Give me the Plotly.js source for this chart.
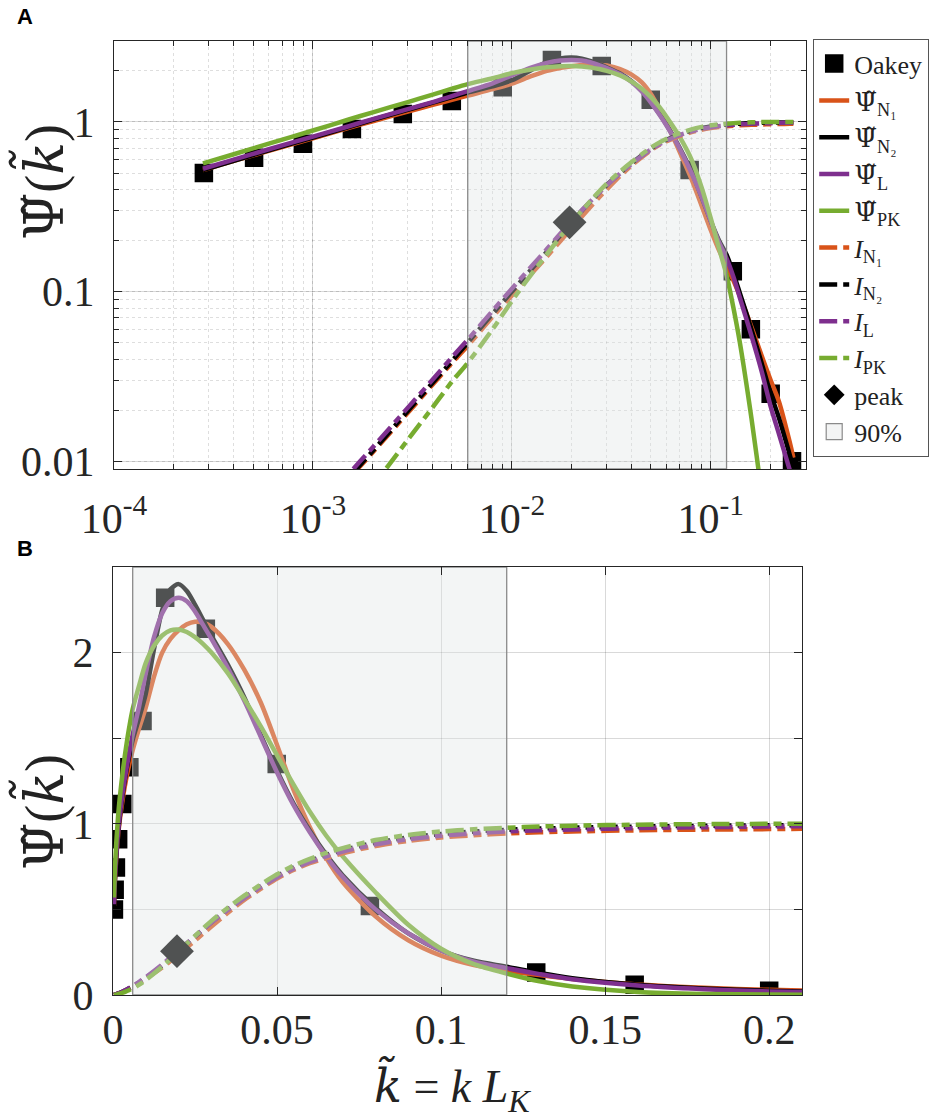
<!DOCTYPE html>
<html><head><meta charset="utf-8">
<script src="https://cdn.plot.ly/plotly-3.0.1.min.js"></script>
<style>html,body{margin:0;padding:0;background:#fff}</style>
</head><body>
<div id="chart" style="width:940px;height:1119px"></div>
<script>
// ---------- data ----------
const kGrid = [0.00028, 0.0004, 0.0006, 0.001, 0.0015, 0.002, 0.003, 0.004, 0.005, 0.006, 0.008, 0.01, 0.0125, 0.015, 0.0175, 0.02, 0.0225, 0.025, 0.0275, 0.03, 0.035, 0.04, 0.045, 0.05, 0.055, 0.06, 0.065, 0.07, 0.08, 0.09, 0.1, 0.11, 0.12, 0.13, 0.14, 0.16, 0.18, 0.2, 0.22, 0.25, 0.26];

const psiN1 = [0.52, 0.59, 0.675, 0.80, 0.92, 1.01, 1.15, 1.26, 1.35, 1.43, 1.56, 1.68, 1.86, 2.00, 2.08, 2.13, 2.165, 2.18, 2.175, 2.15, 2.05, 1.90, 1.71, 1.46, 1.20, 0.98, 0.80, 0.66, 0.46, 0.32, 0.23, 0.175, 0.142, 0.116, 0.094, 0.062, 0.042, 0.030, 0.0225, 0.0128, 0.0105];
const psiN2 = [0.52, 0.59, 0.68, 0.81, 0.93, 1.03, 1.18, 1.30, 1.40, 1.49, 1.62, 1.76, 2.02, 2.25, 2.37, 2.40, 2.36, 2.28, 2.19, 2.10, 1.93, 1.74, 1.52, 1.31, 1.12, 0.96, 0.82, 0.70, 0.51, 0.36, 0.26, 0.20, 0.165, 0.128, 0.098, 0.060, 0.038, 0.025, 0.018, 0.0108, 0.0092];
const psiL  = [0.53, 0.60, 0.69, 0.82, 0.94, 1.04, 1.19, 1.31, 1.42, 1.52, 1.69, 1.88, 2.09, 2.23, 2.30, 2.32, 2.30, 2.24, 2.16, 2.08, 1.91, 1.72, 1.51, 1.30, 1.11, 0.95, 0.81, 0.69, 0.50, 0.36, 0.26, 0.195, 0.157, 0.122, 0.092, 0.055, 0.034, 0.021, 0.0145, 0.0088, 0.0075];
const psiPK = [0.57, 0.645, 0.745, 0.89, 1.03, 1.14, 1.31, 1.45, 1.57, 1.67, 1.81, 1.94, 2.04, 2.10, 2.13, 2.135, 2.12, 2.09, 2.05, 2.00, 1.88, 1.73, 1.57, 1.40, 1.23, 1.07, 0.93, 0.81, 0.60, 0.41, 0.27, 0.18, 0.125, 0.080, 0.050, 0.018, 0.0065, 0.0025, 0.001, 0.0003, 0.0002];

const iN1 = [0.00084, 0.00135, 0.0023, 0.0046, 0.0078, 0.0113, 0.0193, 0.0283, 0.038, 0.048, 0.071, 0.095, 0.127, 0.161, 0.198, 0.237, 0.277, 0.318, 0.36, 0.40, 0.48, 0.555, 0.62, 0.68, 0.73, 0.77, 0.80, 0.828, 0.87, 0.90, 0.92, 0.933, 0.943, 0.95, 0.955, 0.962, 0.966, 0.969, 0.972, 0.975, 0.976];
const iN2 = [0.00084, 0.00135, 0.0023, 0.0046, 0.0079, 0.0115, 0.0198, 0.029, 0.039, 0.050, 0.074, 0.100, 0.135, 0.172, 0.214, 0.257, 0.30, 0.342, 0.384, 0.425, 0.50, 0.57, 0.635, 0.695, 0.745, 0.785, 0.818, 0.846, 0.89, 0.92, 0.94, 0.955, 0.965, 0.972, 0.977, 0.984, 0.988, 0.991, 0.993, 0.995, 0.996];
const iL  = [0.00088, 0.0014, 0.0024, 0.0048, 0.0083, 0.0121, 0.0207, 0.0303, 0.041, 0.052, 0.077, 0.104, 0.140, 0.178, 0.219, 0.260, 0.302, 0.343, 0.383, 0.423, 0.497, 0.566, 0.630, 0.688, 0.737, 0.777, 0.810, 0.838, 0.88, 0.91, 0.93, 0.945, 0.955, 0.962, 0.967, 0.975, 0.98, 0.984, 0.987, 0.99, 0.991];
const iPK = [0.00034, 0.0006, 0.0011, 0.0024, 0.0045, 0.0071, 0.0134, 0.0208, 0.0295, 0.038, 0.060, 0.088, 0.126, 0.166, 0.21, 0.255, 0.30, 0.345, 0.39, 0.433, 0.51, 0.58, 0.645, 0.705, 0.755, 0.795, 0.83, 0.858, 0.905, 0.935, 0.955, 0.968, 0.977, 0.984, 0.989, 0.995, 0.998, 1.0, 1.0, 1.0, 1.0];

const oakeyK   = [0.000283, 0.000506, 0.00089, 0.00157, 0.00283, 0.00499, 0.0090, 0.0159, 0.0283, 0.0499, 0.0783, 0.129, 0.159, 0.200, 0.256];
const oakeyPsi = [0.50, 0.615, 0.745, 0.91, 1.115, 1.33, 1.60, 2.32, 2.14, 1.35, 0.52, 0.132, 0.060, 0.025, 0.010];

const peakK = [0.0195];
const peakI = [0.256];

const band90 = [0.006, 0.12];

const topXLim = [1e-4, 0.301];
const topYLim = [0.009, 3];
const botXLim = [0, 0.21];
const botYLim = [0, 2.5];

const topXTicks = [1e-4, 1e-3, 1e-2, 1e-1];
const topXTickText = ['10<sup>-4</sup>', '10<sup>-3</sup>', '10<sup>-2</sup>', '10<sup>-1</sup>'];
const topYTicks = [0.01, 0.1, 1];
const topYTickText = ['0.01', '0.1', '1'];
const botXTicks = [0, 0.05, 0.1, 0.15, 0.2];
const botXTickText = ['0', '0.05', '0.1', '0.15', '0.2'];
const botYTicks = [0, 0.5, 1, 1.5, 2, 2.5];
const botYTickText = ['0', '', '1', '', '2', ''];

const PSI = '<span style="font-family:DejaVu Serif">Ψ̃</span>';
const KT = '<span style="font-family:DejaVu Serif"><i>k̃</i></span>';
const psiNames = [PSI + '<sub>N₁</sub>', PSI + '<sub>N₂</sub>', PSI + '<sub>L</sub>', PSI + '<sub>PK</sub>'];
const iNames = ['<i>I</i><sub>N₁</sub>', '<i>I</i><sub>N₂</sub>', '<i>I</i><sub>L</sub>', '<i>I</i><sub>PK</sub>'];

// ---------- styling ----------
const colors = ['#D95319', '#000000', '#7E2F8E', '#77AC30'];
const SERIF = 'Liberation Serif, Times New Roman, serif';
const psiSeries = [psiN1, psiN2, psiL, psiPK];
const iSeries = [iN1, iN2, iL, iPK];
const bandFill = 'rgba(222,228,228,0.36)';

function buildTraces(xa, ya, showLeg, yLim) {
  const tr = [];
  tr.push({x: oakeyK, y: oakeyPsi, xaxis: xa, yaxis: ya, mode: 'markers', name: 'Oakey',
    showlegend: showLeg, hoverinfo: 'skip',
    marker: {symbol: 'square', size: 16, color: '#000', line: {color: '#000', width: 2.5}}});
  psiSeries.forEach((s, i) => tr.push({x: kGrid, y: s, xaxis: xa, yaxis: ya, mode: 'lines',
    name: psiNames[i], showlegend: showLeg, hoverinfo: 'skip',
    line: {color: colors[i], width: 4.5, shape: 'spline', smoothing: 0.8}}));
  iSeries.forEach((s, i) => tr.push({x: kGrid, y: s, xaxis: xa, yaxis: ya, mode: 'lines',
    name: iNames[i], showlegend: showLeg, hoverinfo: 'skip',
    line: {color: colors[i], width: 4.5, dash: '18px,6px,8px,6px', shape: 'spline', smoothing: 0.8}}));
  tr.push({x: peakK, y: peakI, xaxis: xa, yaxis: ya, mode: 'markers', name: 'peak',
    showlegend: showLeg, hoverinfo: 'skip',
    marker: {symbol: 'diamond', size: 26, color: '#000'}});
  tr.push({x: [band90[0], band90[0], band90[1], band90[1], band90[0]],
    y: [yLim[0], yLim[1], yLim[1], yLim[0], yLim[0]], xaxis: xa, yaxis: ya,
    mode: 'lines', fill: 'toself', fillcolor: bandFill, name: '90%',
    showlegend: false, hoverinfo: 'skip', line: {color: '#8a8a8a', width: 1.3}});
  if (showLeg) {
    tr.push({x: [null], y: [null], xaxis: xa, yaxis: ya, mode: 'markers', name: '90%',
      showlegend: true, hoverinfo: 'skip',
      marker: {symbol: 'square', size: 22, color: '#f3f4f4', line: {color: '#8a8a8a', width: 1.2}}});
  }
  return tr;
}

const traces = buildTraces('x', 'y', true, topYLim).concat(buildTraces('x2', 'y2', false, botYLim));

const tickFont = {family: SERIF, size: 42, color: '#262626'};
const common = {ticks: 'inside', ticklen: 8, tickcolor: '#262626', tickwidth: 1, showline: true,
  linecolor: '#262626', linewidth: 1.2, mirror: 'allticks', showgrid: true,
  gridcolor: 'rgba(0,0,0,0.15)', gridwidth: 1, zeroline: false, tickfont: tickFont,
  automargin: false, fixedrange: true};
const minorLog = {dtick: 'D1', ticks: 'inside', ticklen: 5, tickcolor: '#262626',
  showgrid: true, gridcolor: 'rgba(0,0,0,0.13)', griddash: 'dot', gridwidth: 1};

const layout = {
  width: 940, height: 1119, margin: {l: 0, r: 0, t: 0, b: 0},
  paper_bgcolor: '#fff', plot_bgcolor: '#fff', showlegend: true,
  xaxis: Object.assign({}, common, {domain: [114/940, 806/940], anchor: 'y', type: 'log',
    range: topXLim.map(Math.log10), tickmode: 'array', tickvals: topXTicks, ticktext: topXTickText,
    minor: minorLog, ticklabelstandoff: 12}),
  yaxis: Object.assign({}, common, {domain: [1 - 469/1119, 1 - 41/1119], anchor: 'x', type: 'log',
    range: topYLim.map(Math.log10), tickmode: 'array', tickvals: topYTicks, ticktext: topYTickText,
    minor: minorLog, ticklabelstandoff: 10}),
  xaxis2: Object.assign({}, common, {domain: [113/940, 802/940], anchor: 'y2',
    range: botXLim, tickmode: 'array', tickvals: botXTicks, ticktext: botXTickText,
    ticklabelstandoff: -3}),
  yaxis2: Object.assign({}, common, {domain: [1 - 995/1119, 1 - 567/1119], anchor: 'x2',
    range: botYLim, tickmode: 'array', tickvals: botYTicks, ticktext: botYTickText,
    ticklabelstandoff: 10}),
  legend: {x: 813/940, y: 1 - 39/1119, xanchor: 'left', yanchor: 'top',
    bgcolor: '#fff', bordercolor: '#555', borderwidth: 1.2,
    font: {family: SERIF, size: 26, color: '#222'}, traceorder: 'normal', tracegroupgap: 0,
    itemwidth: 30},
  annotations: [
    {text: '<b>A</b>', x: 25/940, y: 1 - 17/1119, xref: 'paper', yref: 'paper', showarrow: false,
      xanchor: 'center', yanchor: 'middle',
      font: {family: 'Liberation Sans, Arial, sans-serif', size: 22, color: '#000'}},
    {text: '<b>B</b>', x: 25/940, y: 1 - 548/1119, xref: 'paper', yref: 'paper', showarrow: false,
      xanchor: 'center', yanchor: 'middle',
      font: {family: 'Liberation Sans, Arial, sans-serif', size: 22, color: '#000'}},
    {text: PSI + '(' + KT + ')', textangle: -90, x: 42/940, y: 1 - 182/1119, xref: 'paper', yref: 'paper',
      xanchor: 'center', yanchor: 'middle',
      showarrow: false, font: {family: SERIF, size: 54, color: '#222'}},
    {text: PSI + '(' + KT + ')', textangle: -90, x: 42/940, y: 1 - 812/1119, xref: 'paper', yref: 'paper',
      xanchor: 'center', yanchor: 'middle',
      showarrow: false, font: {family: SERIF, size: 54, color: '#222'}},
    {text: KT + ' = <i>k L</i><sub><i>K</i></sub>', x: 452/940, y: 1 - 1087/1119, xref: 'paper', yref: 'paper',
      xanchor: 'center', yanchor: 'middle',
      showarrow: false, font: {family: SERIF, size: 46, color: '#222'}}
  ]
};

Plotly.newPlot('chart', traces, layout, {displayModeBar: false, staticPlot: true});
</script>
</body></html>
